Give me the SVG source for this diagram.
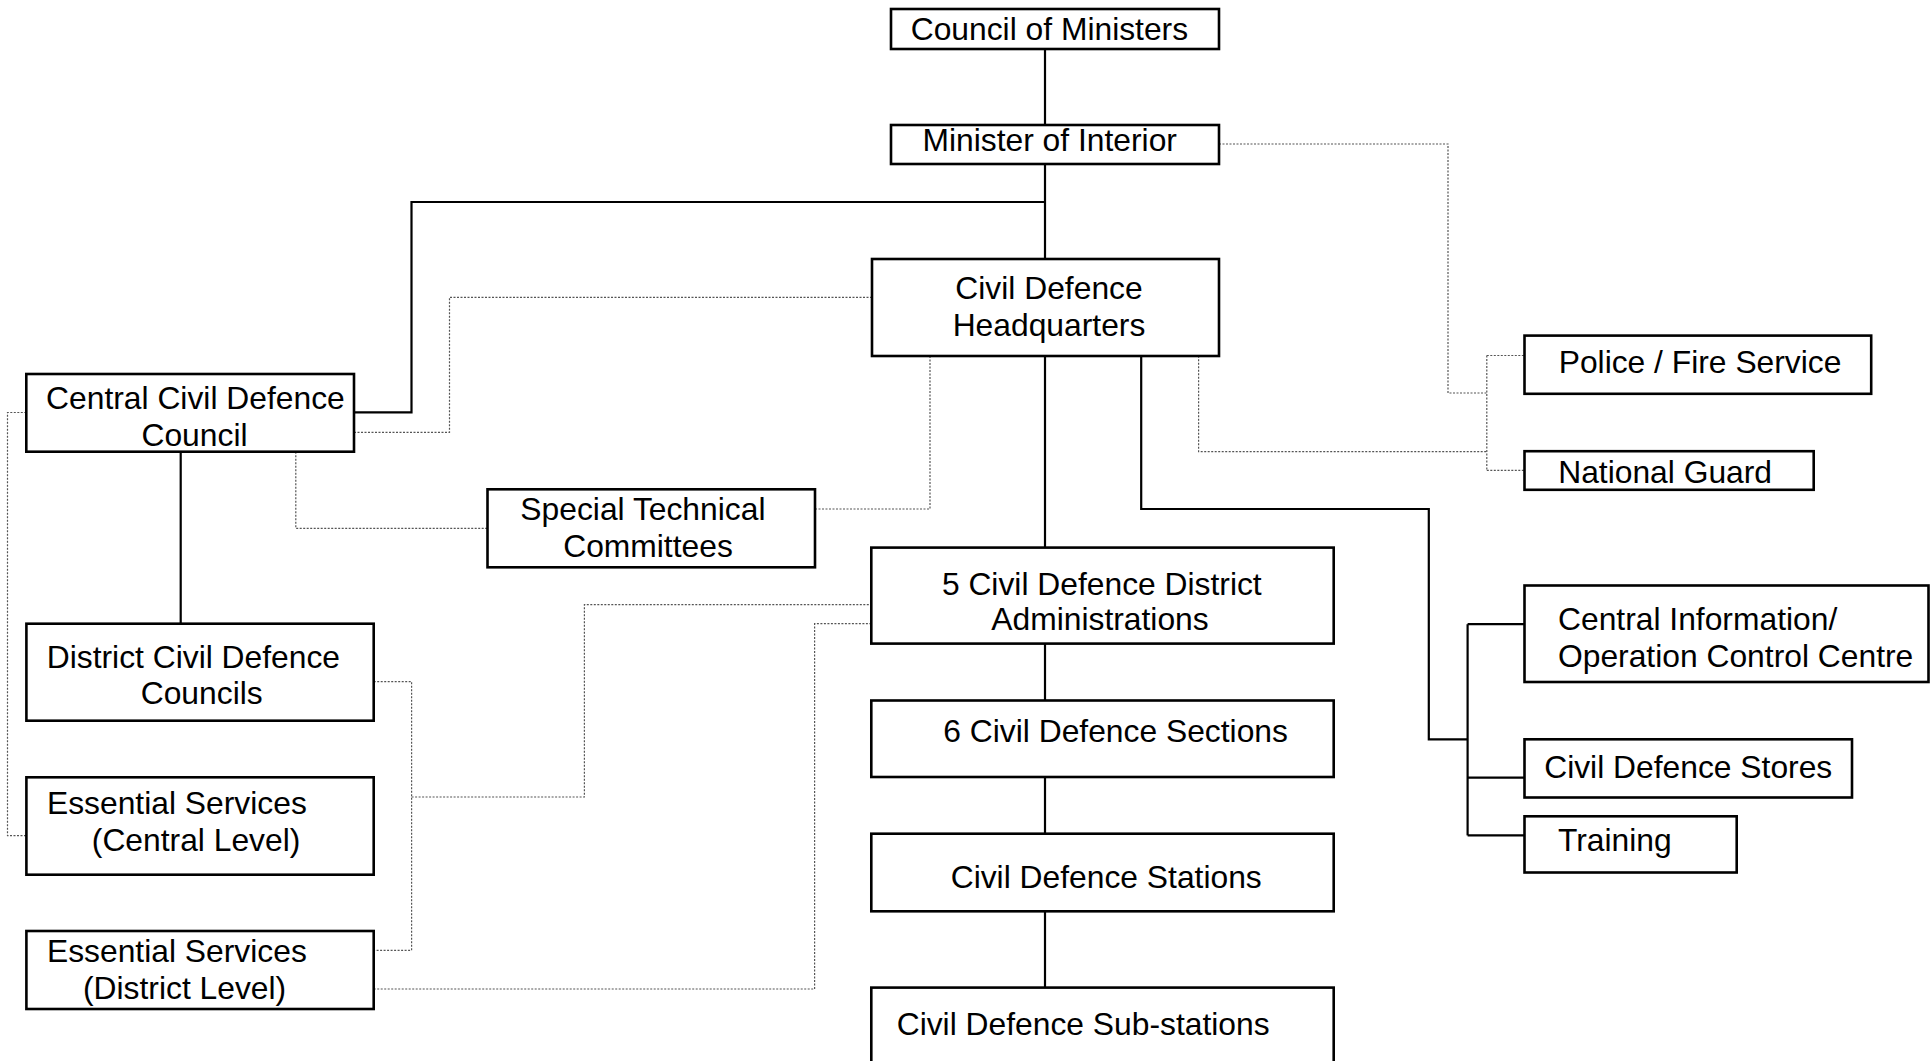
<svg xmlns="http://www.w3.org/2000/svg" width="1931" height="1061" viewBox="0 0 1931 1061">
<style>
.box{fill:#fff;stroke:#000;stroke-width:2.6}
.t{font-family:"Liberation Sans",Arial,sans-serif;font-size:31.8px;fill:#000}
.c{text-anchor:middle}
.solid{fill:none;stroke:#000;stroke-width:2.2}
.dot{fill:none;stroke:#555;stroke-width:1.2;stroke-dasharray:2 1.5}
</style>
<rect width="1931" height="1061" fill="#fff"/>
<g id="connectors">
<path class="solid" d="M1045,49 V125"/>
<path class="solid" d="M1045,164 V259"/>
<path class="solid" d="M1045,202 H411.5 V412.3 H354"/>
<path class="solid" d="M180.7,451.7 V623.7"/>
<path class="solid" d="M1045,355.7 V547.6"/>
<path class="solid" d="M1045,643.5 V700.5"/>
<path class="solid" d="M1045,777 V833.7"/>
<path class="solid" d="M1045,911.3 V987.6"/>
<path class="solid" d="M1141.2,355.7 V509 H1428.8 V739.3 H1467.6"/>
<path class="solid" d="M1467.6,624.2 V835.4"/>
<path class="solid" d="M1467.6,624.2 H1524.5 M1467.6,777.6 H1524.5 M1467.6,835.4 H1524.5"/>
<path class="dot" d="M1219,144 H1448 V393 H1486.8"/>
<path class="dot" d="M1486.8,355.5 V470.3"/>
<path class="dot" d="M1486.8,355.5 H1524.5 M1486.8,470.3 H1524.5"/>
<path class="dot" d="M1198.6,355.7 V451.6 H1486.8"/>
<path class="dot" d="M872,297.3 H449.5 V432.3 H354"/>
<path class="dot" d="M295.8,451.7 V528.3 H487.5"/>
<path class="dot" d="M815,509 H930 V355.7"/>
<path class="dot" d="M26.3,412.5 H7.5 V835.7 H26.3"/>
<path class="dot" d="M373.7,681.7 H411.6 V950.3 H373.7"/>
<path class="dot" d="M411.6,797 H584.4 V604.7 H872"/>
<path class="dot" d="M373.7,989 H814.6 V623.7 H872"/>
</g>
<g id="council-of-ministers"><rect class="box" x="891" y="9" width="328" height="40"/><text class="t c" x="1049.4" y="40">Council of Ministers</text></g>
<g id="minister-of-interior"><rect class="box" x="891" y="125" width="328" height="39"/><text class="t c" x="1049.7" y="150.7">Minister of Interior</text></g>
<g id="cd-headquarters"><rect class="box" x="872" y="259" width="347" height="97"/><text class="t c" x="1049" y="298.5">Civil Defence</text><text class="t c" x="1049" y="335.5">Headquarters</text></g>
<g id="central-cd-council"><rect class="box" x="26.3" y="374" width="327.7" height="77.7"/><text class="t c" x="195.4" y="408.5">Central Civil Defence</text><text class="t c" x="194.5" y="445.5">Council</text></g>
<g id="special-technical-committees"><rect class="box" x="487.5" y="489.3" width="327.5" height="78"/><text class="t c" x="642.9" y="519.5">Special Technical</text><text class="t c" x="648" y="556.7">Committees</text></g>
<g id="district-cd-councils"><rect class="box" x="26.4" y="623.7" width="347.3" height="97"/><text class="t c" x="193.4" y="667.5">District Civil Defence</text><text class="t c" x="201.7" y="704.3">Councils</text></g>
<g id="essential-central"><rect class="box" x="26.4" y="777.3" width="347.3" height="97.4"/><text class="t" x="47" y="814.3">Essential Services</text><text class="t" x="91.8" y="851.3">(Central Level)</text></g>
<g id="essential-district"><rect class="box" x="26.4" y="931" width="347.3" height="78"/><text class="t" x="47" y="962">Essential Services</text><text class="t" x="83" y="998.7">(District Level)</text></g>
<g id="district-administrations"><rect class="box" x="871.3" y="547.6" width="462.4" height="96"/><text class="t c" x="1101.8" y="594.5">5 Civil Defence District</text><text class="t c" x="1100" y="630">Administrations</text></g>
<g id="cd-sections"><rect class="box" x="871.3" y="700.5" width="462.4" height="76.5"/><text class="t" x="943.3" y="741.5">6 Civil Defence Sections</text></g>
<g id="cd-stations"><rect class="box" x="871.3" y="833.7" width="462.4" height="77.6"/><text class="t" x="950.7" y="887.8">Civil Defence Stations</text></g>
<g id="cd-substations"><rect class="box" x="871.3" y="987.6" width="462.4" height="80"/><text class="t" x="896.7" y="1035">Civil Defence Sub-stations</text></g>
<g id="police-fire"><rect class="box" x="1524.5" y="335.6" width="346.7" height="58.2"/><text class="t" x="1558.7" y="372.6">Police / Fire Service</text></g>
<g id="national-guard"><rect class="box" x="1524.5" y="451.2" width="289.2" height="38.6"/><text class="t" x="1558.2" y="482.6">National Guard</text></g>
<g id="central-information"><rect class="box" x="1524.5" y="585.5" width="404" height="96.5"/><text class="t" x="1558" y="629.5">Central Information/</text><text class="t" x="1558" y="667">Operation Control Centre</text></g>
<g id="cd-stores"><rect class="box" x="1524.5" y="739.3" width="327.5" height="58.2"/><text class="t" x="1544.2" y="777.5">Civil Defence Stores</text></g>
<g id="training"><rect class="box" x="1524.5" y="816.3" width="212.2" height="56.2"/><text class="t" x="1558" y="850.5">Training</text></g>
</svg>
